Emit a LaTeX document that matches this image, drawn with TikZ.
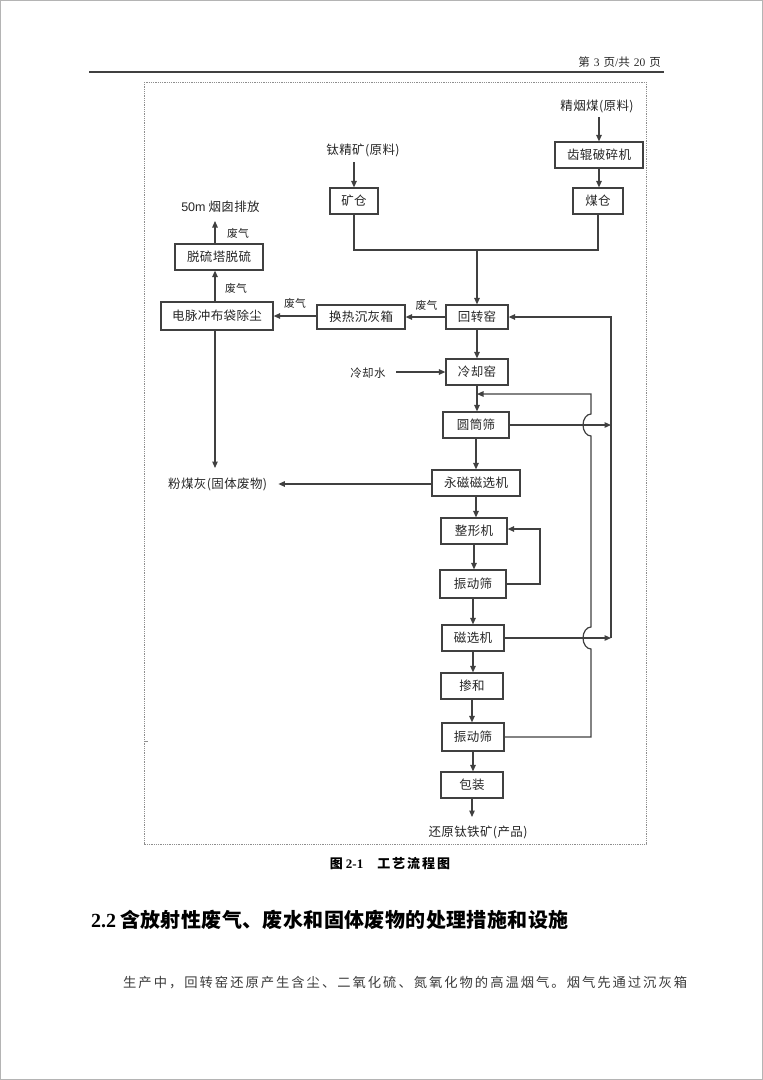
\documentclass[tikz,border=0pt]{standalone}
\usepackage{fontspec}
\setmainfont{Liberation Serif}
\newfontfamily\cjk[LetterSpace=3]{Noto Sans CJK SC}
\newfontfamily\cjkhdr[LetterSpace=6]{Noto Sans CJK SC}
\newfontfamily\cjkcap[LetterSpace=15]{Noto Sans CJK SC}
\newfontfamily\cjkhead[LetterSpace=2]{Noto Sans CJK SC}
\newfontfamily\cjkbody[LetterSpace=15]{Noto Sans CJK SC}
\newfontfamily\sansf{Liberation Sans}
\usetikzlibrary{arrows.meta,calc}
\definecolor{linec}{HTML}{404040}
\definecolor{textc}{HTML}{262626}
\definecolor{framec}{HTML}{8E8E8E}
\definecolor{bodyc}{HTML}{3A3A3A}
\definecolor{pagec}{HTML}{B4B4B4}
\begin{document}
\begin{tikzpicture}[x=1pt,y=-1pt,
  box/.style={draw=linec,line width=1.2pt,inner sep=0pt,text=textc,font=\cjk\fontsize{12.5}{14}\selectfont,minimum height=26pt},
  lbl/.style={inner sep=1pt,text=textc,font=\cjk\fontsize{12.5}{14}\selectfont},
  gas/.style={inner sep=0pt,text=textc,font=\cjk\fontsize{10.8}{12}\selectfont},
  conn/.style={draw=linec,line width=1.2pt},
  arr/.style={conn,-{Triangle[length=6.5pt,width=5.5pt]}},
  framebox/.style={draw=framec,line width=0.9pt,dash pattern=on 1pt off 0.8pt},
]
\useasboundingbox (0,0) rectangle (763,1080);
% page border
\draw[pagec,line width=1.2pt] (0.6,0.6) rectangle (762.4,1079.4);
% header
\draw[linec,line width=1.5pt] (89,72) -- (664,72);
\node[anchor=east,inner sep=0pt,text=textc,font=\fontsize{11.5}{12}\selectfont] (hdr) at (661,62)
  {{\cjkhdr 第}\hspace{4pt}3\hspace{4pt}{\cjkhdr 页}/{\cjkhdr 共}\hspace{4pt}20\hspace{4pt}{\cjkhdr 页}};
% dotted frame
\draw[framebox] (144,82) rectangle (646,844);
\draw[framec,line width=0.8pt] (144,741) -- (148,741);

% boxes
\node[box,minimum width=88pt] (crusher) at (599,155) {齿辊破碎机};
\node[box,minimum width=50pt] (coalbin) at (598,201) {煤仓};
\node[box,minimum width=48pt] (orebin) at (354,201) {矿仓};
\node[box,minimum width=62pt,minimum height=24pt] (kiln) at (477,317) {回转窑};
\node[box,minimum width=88pt,minimum height=24pt] (heat) at (361,317) {换热沉灰箱};
\node[box,minimum width=112pt,minimum height=28pt] (dust) at (217,316) {电脉冲布袋除尘};
\node[box,minimum width=88pt] (desulf) at (219,257) {脱硫塔脱硫};
\node[box,minimum width=62pt] (cooler) at (477,372) {冷却窑};
\node[box,minimum width=66pt] (drum) at (476,425) {圆筒筛};
\node[box,minimum width=88pt] (perm) at (476,483) {永磁磁选机};
\node[box,minimum width=66pt] (shaper) at (474,531) {整形机};
\node[box,minimum width=66pt,minimum height=28pt] (vib) at (473,584) {振动筛};
\node[box,minimum width=62pt] (mag) at (473,638) {磁选机};
\node[box,minimum width=62pt] (mix) at (472,686) {掺和};
\node[box,minimum width=62pt,minimum height=28pt] (vib2) at (473,737) {振动筛};
\node[box,minimum width=62pt] (pack) at (472,785) {包装};

% plain labels
\node[lbl] (raw2) at (597,106) {精烟煤(原料)};
\node[lbl] (raw1) at (363,150) {钛精矿(原料)};
\node[lbl] (stack) at (220.5,207) {{\sansf 50m}\hspace{3pt}烟囱排放};
\node[lbl] (ash) at (217.7,484) {粉煤灰(固体废物)};
\node[lbl] (product) at (478,832) {还原钛铁矿(产品)};
\node[lbl,font=\cjk\fontsize{11.5}{12}\selectfont] (water) at (368,373) {冷却水};
\node[gas] (g1) at (238,233) {废气};
\node[gas] (g2) at (236,288) {废气};
\node[gas] (g3) at (295,303) {废气};
\node[gas] (g4) at (426.5,305) {废气};

% helper coordinates
\coordinate (r2s) at (599,117);
\coordinate (r1s) at (354,162);
\coordinate (j) at (477,250);
\coordinate (stackin) at (215,221);
\coordinate (ashin) at (215,468);
\coordinate (wstart) at (396,372);
\coordinate (prodin) at (472,817);
\coordinate (loopx) at (540,0);
\coordinate (rx) at (611,0);
\coordinate (ix) at (591,0);
\coordinate (ret) at (0,394);
\coordinate (b1bot) at (591,436);
\coordinate (b2bot) at (591,649);

% raw material feeds
\draw[arr] (r2s) -- (r2s |- crusher.north);
\draw[arr] (crusher.south) -- (crusher.south |- coalbin.north);
\draw[arr] (r1s) -- (r1s |- orebin.north);
\draw[conn] (orebin.south) -- (orebin.south |- j) -- (coalbin.south |- j) -- (coalbin.south);
\draw[arr] (j) -- (j |- kiln.north);

% gas path
\draw[arr] (kiln.west) -- (kiln.west -| heat.east);
\draw[arr] (heat.west |- dust.east) -- (dust.east);
\draw[arr] ([xshift=-2pt]dust.north) -- ([xshift=-2pt]dust.north |- desulf.south);
\draw[arr] (stackin |- desulf.north) -- (stackin);
\draw[arr] (ashin |- dust.south) -- (ashin);
\draw[arr] (perm.west |- 0,484) -- ([xshift=10pt]ash.east |- 0,484);

% main column
\draw[arr] (wstart) -- (wstart -| cooler.west);
\draw[arr] (kiln.south) -- (kiln.south |- cooler.north);
\draw[arr] (cooler.south) -- (cooler.south |- drum.north);
\draw[arr] (drum.south) -- (drum.south |- perm.north);
\draw[arr] (perm.south) -- (perm.south |- shaper.north);
\draw[arr] (shaper.south) -- (shaper.south |- vib.north);
\draw[arr] (vib.south) -- (vib.south |- mag.north);
\draw[arr] (mag.south) -- (mag.south |- mix.north);
\draw[arr] (mix.south) -- (mix.south |- vib2.north);
\draw[arr] (vib2.south) -- (vib2.south |- pack.north);
\draw[arr] (pack.south) -- (prodin);

% shaper loop
\draw[arr] (vib.east) -- (vib.east -| loopx) -- ($(loopx |- shaper.east)+(0,-2)$) -- ($(shaper.east)+(0,-2)$);

% outer return to kiln
\draw[arr] (drum.east) -- (drum.east -| rx);
\draw[arr] (mag.east) -- (mag.east -| rx);
\draw[arr] (mag.east -| rx) -- (kiln.east -| rx) -- (kiln.east);

% inner return to drum screen
\draw[arr] (vib2.east) -- (vib2.east -| ix) -- (b2bot)
  arc[start angle=270,end angle=90,x radius=8pt,y radius=11pt] -- (b1bot)
  arc[start angle=270,end angle=90,x radius=8pt,y radius=11pt] -- (ix |- ret) -- (cooler.south |- ret);

% caption and text
\node[inner sep=0pt,text=black,font=\bfseries\fontsize{13}{15}\selectfont] (cap) at (390,864)
  {{\cjkcap 图}\hspace{3pt}2-1\hspace{14pt}{\cjkcap 工艺流程图}};
\node[anchor=west,inner sep=0pt,text=black,font=\bfseries\fontsize{20}{24}\selectfont] (head) at (91,920)
  {2.2\hspace{4pt}{\cjkhead 含放射性废气、废水和固体废物的处理措施和设施}};
\node[anchor=west,inner sep=0pt,text=bodyc,font=\cjkbody\fontsize{13.3}{15}\selectfont] (body) at (123,983)
  {生产中，回转窑还原产生含尘、二氧化硫、氮氧化物的高温烟气。烟气先通过沉灰箱};
\end{tikzpicture}
\end{document}
